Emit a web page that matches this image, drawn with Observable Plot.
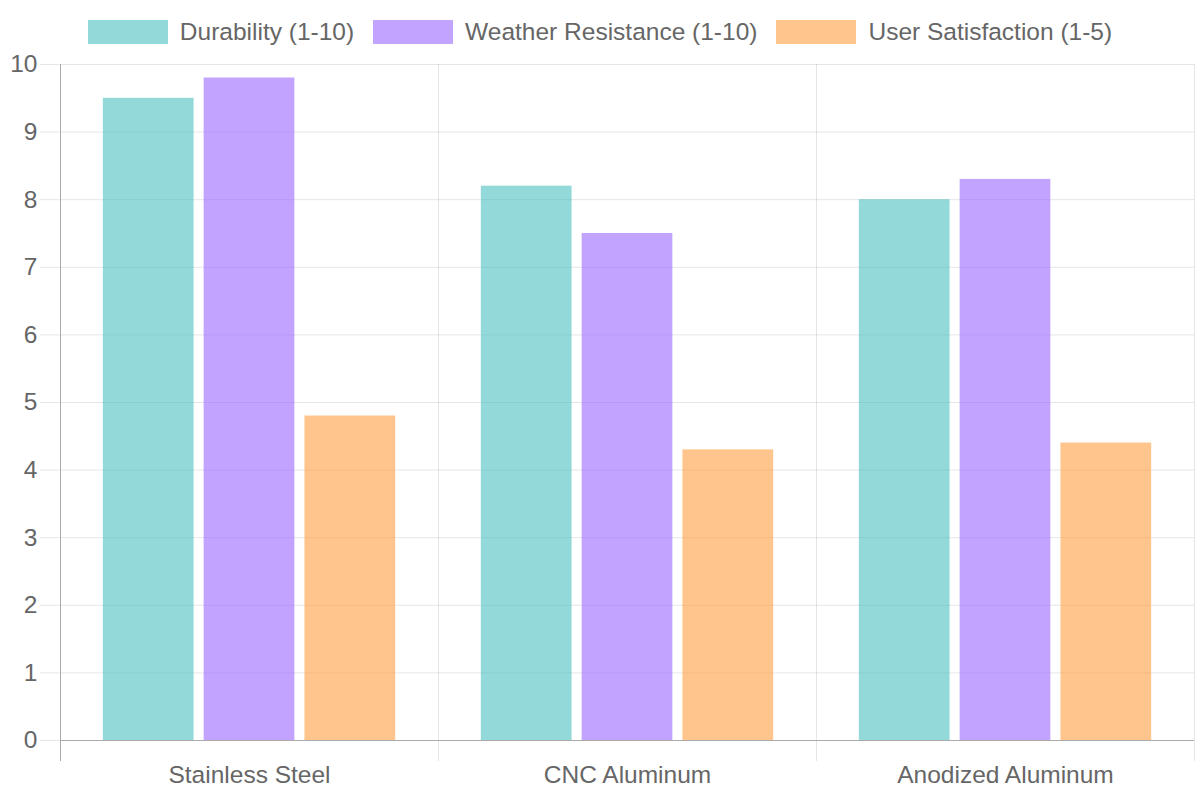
<!DOCTYPE html>
<html>
<head>
<meta charset="utf-8">
<script src="https://cdn.jsdelivr.net/npm/d3@7"></script>
<script src="https://cdn.jsdelivr.net/npm/@observablehq/plot@0.6"></script>
<style>
  html, body { margin: 0; padding: 0; background: #fff; }
  body { width: 1200px; height: 800px; overflow: hidden; font-family: "Liberation Sans", Arial, Helvetica, sans-serif; color: #666; }
  #legend { display: flex; justify-content: center; align-items: center; padding-top: 20px; height: 24px; gap: 19px; font-size: 24.5px; }
  .item { display: flex; align-items: center; }
  .swatch { width: 80px; height: 24px; margin-right: 12px; }
  .label { line-height: 24px; white-space: nowrap; }
  #chart svg { display: block; overflow: visible; }
</style>
</head>
<body>
<div id="legend"></div>
<div id="chart"></div>
<script>
const materials = ["Stainless Steel", "CNC Aluminum", "Anodized Aluminum"];
const seriesNames = ["Durability (1-10)", "Weather Resistance (1-10)", "User Satisfaction (1-5)"];
const durability = [9.5, 8.2, 8.0];
const weatherResistance = [9.8, 7.5, 8.3];
const userSatisfaction = [4.8, 4.3, 4.4];
const seriesColors = ["rgb(75,192,192)", "rgb(153,102,255)", "rgb(255,159,64)"];
const yTicks = [0, 1, 2, 3, 4, 5, 6, 7, 8, 9, 10];

const seriesValues = [durability, weatherResistance, userSatisfaction];
const data = materials.flatMap((m, i) =>
  seriesNames.map((s, j) => ({material: m, series: s, value: seriesValues[j][i]}))
);

// Legend
const legend = d3.select("#legend");
seriesNames.forEach((s, j) => {
  const it = legend.append("div").attr("class", "item");
  it.append("div").attr("class", "swatch")
    .style("background", seriesColors[j]).style("opacity", 0.6);
  it.append("div").attr("class", "label").text(s);
});

const grid = {stroke: "#000", strokeOpacity: 0.1};

const chart = Plot.plot({
  width: 1200,
  height: 756,
  marginLeft: 60,
  marginRight: 6,
  marginTop: 20,
  marginBottom: 60,
  style: {fontSize: "24.5px", fontFamily: "'Liberation Sans', Arial, Helvetica, sans-serif", color: "#666", background: "#fff"},
  fx: {domain: materials, padding: 0, label: null, round: false},
  x: {domain: seriesNames, paddingInner: 0.1, paddingOuter: 0.425, axis: null, round: false},
  y: {domain: [0, 10], label: null},
  color: {domain: seriesNames, range: seriesColors},
  marks: [
    Plot.gridY(yTicks, grid),
    Plot.frame({anchor: "left", ...grid, insetBottom: -20}),
    Plot.frame({anchor: "right", ...grid, insetBottom: -20, facet: "super"}),
    Plot.barY(data, {fx: "material", x: "series", y: "value", fill: "series", fillOpacity: 0.6}),
    Plot.ruleY([0], {stroke: "#aaa"}),
    Plot.frame({anchor: "left", stroke: "#aaa", insetBottom: -20, facet: "super"}),
    Plot.axisY(yTicks, {tickSize: 20, tickPadding: 3, stroke: "#e6e6e6", fill: "#666", label: null, tickFormat: d3.format("d")}),
    Plot.axisFx({anchor: "bottom", tickSize: 0, tickPadding: 25, label: null, fill: "#666"})
  ]
});
document.getElementById("chart").appendChild(chart);
</script>
</body>
</html>
